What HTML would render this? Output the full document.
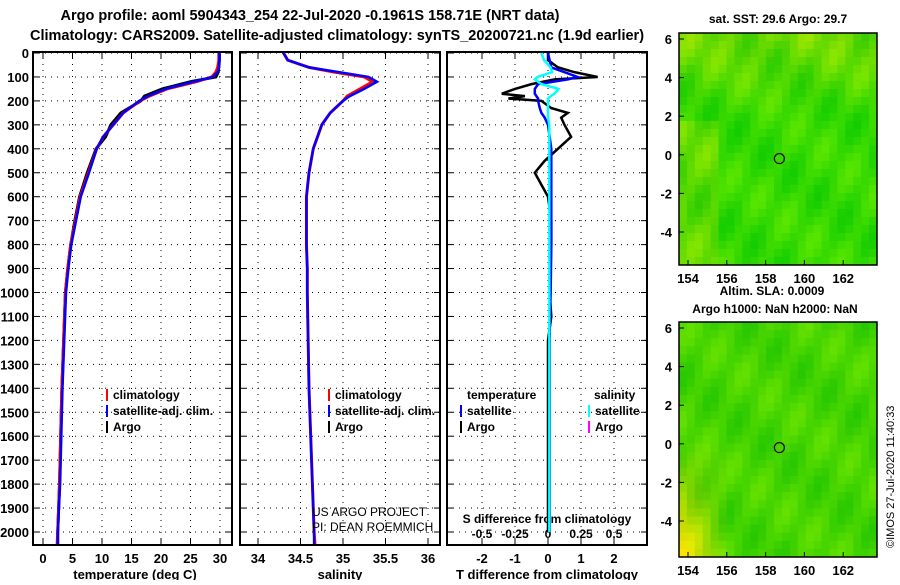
<!DOCTYPE html>
<html><head><meta charset="utf-8">
<style>
body{margin:0;background:#fff;}
svg text{font-family:"Liberation Sans",sans-serif;font-weight:bold;fill:#000;}
</style></head>
<body>
<svg id="c" width="900" height="580" xmlns="http://www.w3.org/2000/svg">
<text x="310" y="20" font-size="14.5" text-anchor="middle">Argo profile: aoml 5904343_254 22-Jul-2020 -0.1961S 158.71E (NRT data)</text>
<text x="337" y="40" font-size="14.5" text-anchor="middle">Climatology: CARS2009. Satellite-adjusted climatology: synTS_20200721.nc (1.9d earlier)</text>
<g id="g"></g>
</svg>
<script>
const NS='http://www.w3.org/2000/svg';
const root=document.getElementById('g');
function mk(t,a,p){const e=document.createElementNS(NS,t);for(const k in a)e.setAttribute(k,a[k]);(p||root).appendChild(e);return e;}

const depthTicks=[0,100,200,300,400,500,600,700,800,900,1000,1100,1200,1300,1400,1500,1600,1700,1800,1900,2000];
const depths=[0,30,60,80,100,120,150,180,200,250,300,350,400,500,600,700,800,900,1000,1200,1400,1600,1800,2000,2050];
const tempClim=[29.8,29.8,29.6,29.3,28.6,26,21,18,16.4,13.6,11.9,10.2,9.1,7.7,6.3,5.5,4.7,4.2,3.8,3.5,3.2,3.0,2.8,2.5,2.4];
const tempSat=[29.9,29.9,29.8,29.6,28.8,25.5,20.8,17.8,16.3,13.6,11.9,10.2,9.1,7.8,6.4,5.6,4.8,4.3,3.9,3.6,3.3,3.1,2.9,2.5,2.5];
const tempArgo=[29.9,29.9,29.8,29.7,29.3,25,20.2,17.2,16.6,13.2,11.5,10.6,9.0,7.5,6.2,5.4,4.7,4.2,3.8,3.5,3.2,3.0,2.8,2.5,2.5];
const salClim=[34.3,34.35,34.6,34.9,35.25,35.35,35.2,35.05,35.0,34.85,34.75,34.7,34.65,34.6,34.57,34.57,34.57,34.58,34.58,34.59,34.6,34.62,34.64,34.66,34.67];
const salSat=[34.3,34.35,34.6,34.95,35.3,35.4,35.25,35.08,35.0,34.85,34.75,34.7,34.65,34.6,34.57,34.57,34.57,34.58,34.58,34.59,34.6,34.62,34.64,34.66,34.66];
const dDepth=[0,30,60,80,100,110,130,150,170,180,190,200,230,250,270,300,350,400,450,500,550,600,700,800,1000,1100,1200,1500,2000];
const dTArgo=[0,0,0.3,0.8,1.5,0.2,-0.5,-1.0,-1.4,-0.7,-1.2,-0.2,0.1,0.6,0.4,0.5,0.7,0.3,-0.1,-0.4,-0.2,0,0.1,0.1,0.05,0.1,0,0,0];
const dTSat=[0,0.05,0.1,0.5,0.9,0.6,-0.3,-0.4,-0.4,-0.35,-0.3,-0.3,-0.25,-0.2,-0.1,0,0.05,0.1,0.1,0.1,0.1,0.1,0.1,0.1,0.08,0.06,0.05,0.05,0.05];
const dSSat=[-0.05,-0.03,0.02,0.03,-0.08,-0.1,-0.05,0.08,0.05,0.02,0,0,0,0,0,0.01,0.01,0.01,0.01,0.01,0.01,0.01,0.01,0.01,0.01,0.01,0.01,0.01,0.01];
const tTicks=[0,5,10,15,20,25,30];
const sTicks=[34,34.5,35,35.5,36];
const dTTicks=[-2,-1,0,1,2];
const dSTicks=['-0.5','-0.25','0','0.25','0.5'];

const Y=d=>53+d*0.2395;
const pTop=52,pBot=545;
function panel(x0,x1,name){
  mk('rect',{x:x0,y:pTop,width:x1-x0,height:pBot-pTop,fill:'#fff',stroke:'#000','stroke-width':2,});
}
function grid(x0,x1,xs){
  depthTicks.forEach(d=>{mk('line',{x1:x0,x2:x1,y1:Y(d),y2:Y(d),stroke:'#000','stroke-dasharray':'1 5'});
    mk('line',{x1:x0,x2:x0+6,y1:Y(d),y2:Y(d),stroke:'#000'});mk('line',{x1:x1-6,x2:x1,y1:Y(d),y2:Y(d),stroke:'#000'});});
  xs.forEach(x=>{mk('line',{x1:x,x2:x,y1:pTop,y2:pBot,stroke:'#000','stroke-dasharray':'1 5'});
    mk('line',{x1:x,x2:x,y1:pTop,y2:pTop+6,stroke:'#000'});mk('line',{x1:x,x2:x,y1:pBot-6,y2:pBot,stroke:'#000'});});
}
function line(xsArr,ds,xf,col,w,name){
  const p=mk('polyline',{points:xsArr.map((v,i)=>xf(v)+','+Y(ds[i])).join(' '),fill:'none',stroke:col,'stroke-width':w});
  
  
}
// Panel 1
const XT=t=>43+t*5.9;
panel(33,232,'temperature-panel');
grid(33,232,tTicks.map(XT));
depthTicks.forEach(d=>{const t=mk('text',{x:29,y:Y(d)+5,'font-size':13,'text-anchor':'end'});t.textContent=d;
  
  });
tTicks.forEach(v=>{const t=mk('text',{x:XT(v),y:563,'font-size':13,'text-anchor':'middle'});t.textContent=v;});
mk('text',{x:135,y:579,'font-size':13,'text-anchor':'middle',}).textContent='temperature (deg C)';
line(tempArgo,depths,XT,'#000',3,'argo-temperature-line');
line(tempClim,depths,XT,'#f00',3,'clim-temperature-line');
line(tempSat,depths,XT,'#00f',2.5,'sat-temperature-line');
// Panel 2
const XS=s=>258+(s-34)*85;
panel(240,440,'salinity-panel');
grid(240,440,sTicks.map(XS));
sTicks.forEach(v=>{const t=mk('text',{x:XS(v),y:563,'font-size':13,'text-anchor':'middle'});t.textContent=v;});
mk('text',{x:340,y:579,'font-size':13,'text-anchor':'middle',}).textContent='salinity';
line(salClim,depths,XS,'#f00',3,'clim-salinity-line');
line(salSat,depths,XS,'#00f',2.5,'sat-salinity-line');
// Panel 3
const XD=t=>548+t*33;
const XDS=s=>548+s*132;
panel(447,647,'difference-panel');
grid(447,647,dTTicks.map(XD));
dTTicks.forEach(v=>{const t=mk('text',{x:XD(v),y:563,'font-size':13,'text-anchor':'middle'});t.textContent=v;});
dSTicks.forEach(v=>{const t=mk('text',{x:XDS(+v),y:538,'font-size':12,'text-anchor':'middle'});t.textContent=v;});
mk('text',{x:547,y:523,'font-size':12,'text-anchor':'middle',}).textContent='S difference from climatology';
mk('text',{x:547,y:579,'font-size':13,'text-anchor':'middle',}).textContent='T difference from climatology';
line(dTArgo,dDepth,XD,'#000',2.5,'argo-tdiff-line');
line(dTSat,dDepth,XD,'#00f',2.5,'sat-tdiff-line');
line(dSSat,dDepth,XDS,'#0ff',2.5,'sat-sdiff-line');
// legends
function leg(x,y,col,txt,name){mk('rect',{x:x,y:y-10,width:2,height:12,fill:col});
  const t=mk('text',{x:x+7,y:y,'font-size':12});t.textContent=txt;
  
  }
leg(106,399,'#f00','climatology','legend-climatology');leg(106,415,'#00f','satellite-adj. clim.','legend-satellite');leg(106,431,'#000','Argo','legend-argo');
leg(328,399,'#f00','climatology','legend-climatology-2');leg(328,415,'#00f','satellite-adj. clim.','legend-satellite-2');leg(328,431,'#000','Argo','legend-argo-2');
mk('text',{x:467,y:399,'font-size':12,}).textContent='temperature';
mk('text',{x:594,y:399,'font-size':12,}).textContent='salinity';
leg(460,415,'#00f','satellite','legend-t-satellite');leg(460,431,'#000','Argo','legend-t-argo');
leg(588,415,'#0ff','satellite','legend-s-satellite');leg(588,431,'#f0f','Argo','legend-s-argo');
mk('text',{x:312,y:516,'font-size':12,style:'font-weight:normal',}).textContent='US ARGO PROJECT';
mk('text',{x:312,y:531,'font-size':12,style:'font-weight:normal',}).textContent='PI: DEAN ROEMMICH';
// maps
const lonTicks=[154,156,158,160,162];const latTicks=[6,4,2,0,-2,-4];
function map(y0,y1,name,style){
  const x0=679,x1=877;
  const g=mk('g',{});
  const n=25,m=29;
  for(let i=0;i<n;i++)for(let j=0;j<m;j++){
    const v=0.5+0.25*Math.sin(i*1.3+j*0.7)+0.25*Math.cos(j*0.5-i*0.4);
    let r,gr;
    if(style===1){
      const yel=Math.max(0,1-j/10)*0.6+Math.max(0,(i<5?1:0)*(j>10?0.4:0));
      r=Math.round(20+70*v+110*yel*(0.6+0.4*v)); gr=Math.round(205+25*v);
    } else {
      const yel=Math.max(0,(6-i)/6)*Math.max(0,(j-14)/14);
      r=Math.round(40+60*v+170*yel); gr=Math.round(200+25*v+10*yel);
    }
    mk('rect',{x:x0+i*(x1-x0)/n,y:y0+j*(y1-y0)/m,width:(x1-x0)/n+0.5,height:(y1-y0)/m+0.5,fill:`rgb(${r},${gr},0)`},g);
  }
  mk('rect',{x:x0,y:y0,width:x1-x0,height:y1-y0,fill:'none',stroke:'#000','stroke-width':1.5},g);
  const LX=l=>688+(l-154)*19.4, LY=l=>y0+6+(6-l)*19.3;
  lonTicks.forEach(l=>{mk('text',{x:LX(l),y:y1+18,'font-size':13,'text-anchor':'middle'}).textContent=l;
    mk('line',{x1:LX(l),x2:LX(l),y1:y1-5,y2:y1,stroke:'#000'});});
  latTicks.forEach(l=>{mk('text',{x:672,y:LY(l)+5,'font-size':13,'text-anchor':'end'}).textContent=l;
    mk('line',{x1:x0,x2:x0+5,y1:LY(l),y2:LY(l),stroke:'#000'});});
  mk('circle',{cx:LX(158.71),cy:LY(-0.1961),r:5,fill:'none',stroke:'#000','stroke-width':1.2,});
}
map(33,265,'sst-map',1);
map(322,557,'sla-map',2);
mk('text',{x:778,y:23,'font-size':12,'text-anchor':'middle',}).textContent='sat. SST: 29.6 Argo: 29.7';
mk('text',{x:772,y:295,'font-size':12,'text-anchor':'middle',}).textContent='Altim. SLA: 0.0009';
mk('text',{x:775,y:313,'font-size':12,'text-anchor':'middle',}).textContent='Argo h1000: NaN h2000: NaN';
mk('text',{x:0,y:0,'font-size':11,style:'font-weight:normal',transform:'translate(894,548) rotate(-90)',}).textContent='©IMOS 27-Jul-2020 11:40:33';
</script>
</body></html>
